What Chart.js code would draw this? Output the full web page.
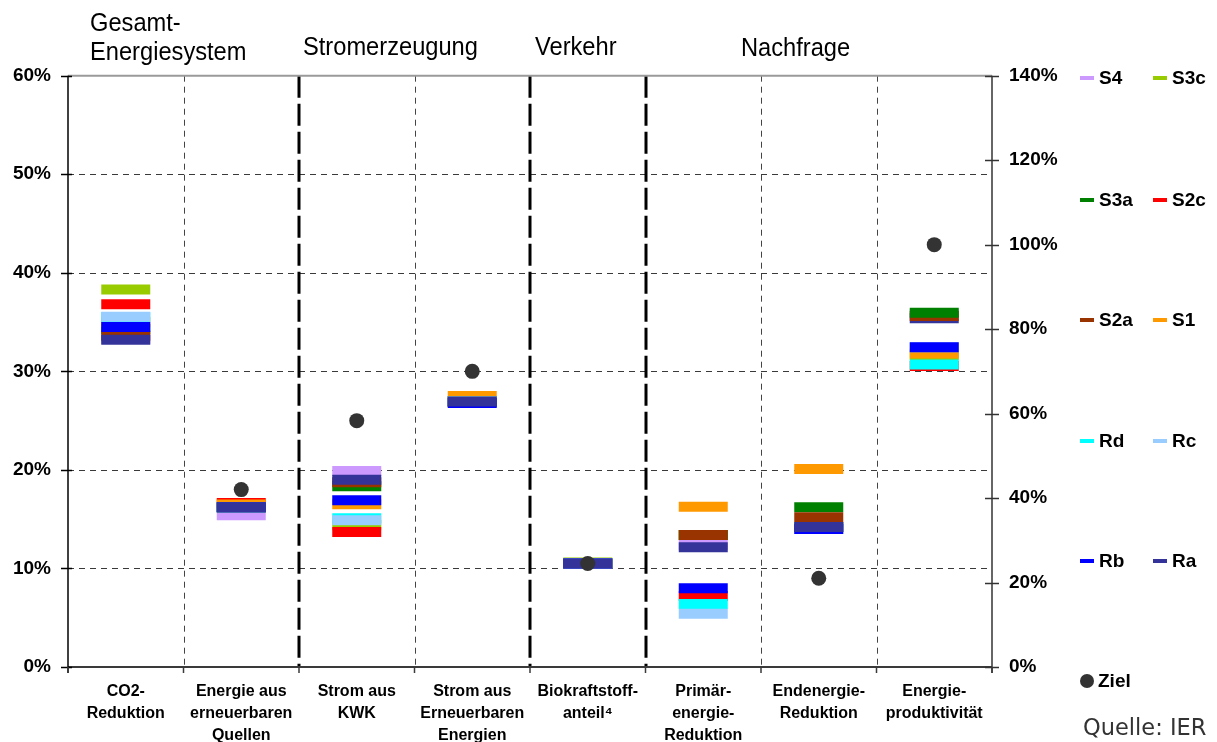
<!DOCTYPE html>
<html>
<head>
<meta charset="utf-8">
<script src="https://cdn.jsdelivr.net/npm/chart.js@4.4.1/dist/chart.umd.min.js"></script>
<style>
html,body{margin:0;padding:0;background:#fff;}
#wrap{position:relative;width:1217px;height:742px;overflow:hidden;background:#fff;}
#c{position:absolute;left:0;top:0;}
.hdr{position:absolute;font-family:'Liberation Sans',Arial,sans-serif;font-size:26px;line-height:29px;color:#000;white-space:nowrap;transform:scaleX(0.91);transform-origin:0 0;}
.leg{position:absolute;font-family:'Liberation Sans',Arial,sans-serif;font-weight:bold;font-size:19px;line-height:24px;color:#000;white-space:nowrap;display:flex;align-items:center;}
.sw{display:inline-block;width:14px;height:4px;margin-right:5px;}
.dot{display:inline-block;width:14px;height:14px;border-radius:50%;background:#333;margin-right:4px;}
.src{position:absolute;font-family:'DejaVu Sans',Verdana,sans-serif;font-size:22.5px;color:#333;white-space:nowrap;}
</style>
</head>
<body>
<div id="wrap">
  <canvas id="c" width="1217" height="742"></canvas>
  <div class="hdr" style="left:90px;top:8px;">Gesamt-<br>Energiesystem</div>
  <div class="hdr" style="left:303px;top:32px;">Stromerzeugung</div>
  <div class="hdr" style="left:535px;top:32px;">Verkehr</div>
  <div class="hdr" style="left:741px;top:33px;">Nachfrage</div>
  <div class="src" style="left:1083px;top:714px;">Quelle: IER</div>
</div>
<script>
// ---------- DATA ----------
const categories = [
  ['CO2-', 'Reduktion'],
  ['Energie aus', 'erneuerbaren', 'Quellen'],
  ['Strom aus', 'KWK'],
  ['Strom aus', 'Erneuerbaren', 'Energien'],
  ['Biokraftstoff-', 'anteil\u2074'],
  ['Primär-', 'energie-', 'Reduktion'],
  ['Endenergie-', 'Reduktion'],
  ['Energie-', 'produktivität']
];
const scenarioNames  = ['S4', 'S3c', 'S3a', 'S2c', 'S2a', 'S1', 'Rd', 'Rc', 'Rb', 'Ra'];
const scenarioColors = ['#CC99FF', '#99CC00', '#008000', '#FF0000', '#993300', '#FF9900', '#00FFFF', '#99CCFF', '#0000FF', '#333399'];

// values in % (left axis) for the first seven categories
const S4  = [33.3, 15.4, 19.9, 26.95, 10.5, 12.37, 14.2];
const S3c = [38.3, 16.2, 14.4, 26.95, 10.6, 13.4, 14.2];
const S3a = [34.3, 16.2, 18.35, 26.95, 10.5, 13.4, 16.2];
const S2c = [36.8, 16.65, 13.7, 26.95, 10.5, 7.2, 14.2];
const S2a = [33.6, 16.2, 18.75, 26.95, 10.5, 13.4, 15.2];
const S1  = [35.0, 16.49, 16.52, 27.5, 10.5, 16.25, 20.1];
const Rd  = [35.5, 16.2, 15.1, 26.95, 10.5, 6.4, 14.2];
const Rc  = [35.55, 16.2, 14.9, 26.95, 10.5, 5.4, 14.0];
const Rb  = [34.5, 16.2, 16.93, 26.8, 10.5, 8.0, 14.0];
const Ra  = [33.2, 16.2, 19.0, 26.95, 10.5, 12.15, 14.2];
const zielLeft = [null, 18.0, 25.0, 30.0, 10.5, null, 9.0];

// Energieproduktivität (right axis, %), in scenario order S4..Ra
const productivity = [83.5, 73.8, 83.9, 71.25, 83.1, 74.2, 71.6, 75.7, 75.7, 82.6];
const productivityZiel = 100;
// drawing layers for Energieproduktivität (bottom to top)
const productivityLayers = ['Ra', 'S4', 'S3c', 'S2c', 'S2a', 'S3a', 'S1', 'Rd', 'Rc', 'Rb'];

const leftTicks = [0, 10, 20, 30, 40, 50, 60];
const rightTicks = [0, 20, 40, 60, 80, 100, 120, 140];
// ---------------------------

const seriesValues = [S4, S3c, S3a, S2c, S2a, S1, Rd, Rc, Rb, Ra];
const N = categories.length;
const sans = "'Liberation Sans',Arial,sans-serif";

const marker = (color) => ({
  showLine: false,
  pointStyle: 'line',
  pointRadius: 24.5,
  pointHoverRadius: 24.5,
  pointBorderWidth: 10,
  pointHoverBorderWidth: 10,
  pointBorderColor: color,
  pointBackgroundColor: color,
  borderColor: color,
  backgroundColor: color
});

const datasets = [];
seriesValues.forEach((vals, i) => {
  datasets.push(Object.assign({
    label: scenarioNames[i],
    data: vals.concat([null]),
    yAxisID: 'y',
    order: 100 - i
  }, marker(scenarioColors[i])));
});
productivityLayers.forEach((name, layer) => {
  const i = scenarioNames.indexOf(name);
  const data = new Array(N).fill(null);
  data[N - 1] = productivity[i];
  datasets.push(Object.assign({
    label: name + ' (Produktivität)',
    data: data,
    yAxisID: 'y2',
    order: 50 - layer
  }, marker(scenarioColors[i])));
});
const zielStyle = {
  showLine: false, pointStyle: 'circle', pointRadius: 7.5, pointHoverRadius: 7.5,
  pointBorderWidth: 0, pointBackgroundColor: '#333333', pointBorderColor: '#333333',
  borderColor: '#333333', backgroundColor: '#333333', order: 0
};
datasets.push(Object.assign({label: 'Ziel', data: zielLeft.concat([null]), yAxisID: 'y'}, zielStyle));
const zp = new Array(N).fill(null); zp[N - 1] = productivityZiel;
datasets.push(Object.assign({label: 'Ziel (Produktivität)', data: zp, yAxisID: 'y2'}, zielStyle));

function seg(ctx, x1, y1, x2, y2) { ctx.beginPath(); ctx.moveTo(x1, y1); ctx.lineTo(x2, y2); ctx.stroke(); }

const gridPlugin = {
  id: 'customGrid',
  beforeDatasetsDraw(chart) {
    const {ctx, chartArea: a, scales} = chart;
    const x = scales.x, y = scales.y, y2 = scales.y2;
    ctx.save();
    ctx.lineWidth = 1; ctx.strokeStyle = '#3a3a3a'; ctx.setLineDash([6, 5]);
    leftTicks.forEach(v => {
      if (v > 0 && v < 60) {
        const py = Math.round(y.getPixelForValue(v)) + 0.5;
        seg(ctx, a.left, py, a.right, py);
      }
    });
    const bounds = [];
    for (let k = 0; k <= N; k++) {
      if (k === 0) bounds.push(a.left);
      else if (k === N) bounds.push(a.right);
      else bounds.push((x.getPixelForValue(k - 1) + x.getPixelForValue(k)) / 2);
    }
    ctx.strokeStyle = '#444'; ctx.lineWidth = 1; ctx.setLineDash([6, 5]);
    [1, 3, 6, 7].forEach(k => { const px = Math.round(bounds[k]) + 0.5; seg(ctx, px, a.top, px, a.bottom); });
    ctx.strokeStyle = '#000'; ctx.lineWidth = 3; ctx.setLineDash([22, 6]);
    [2, 4, 5].forEach(k => { const px = Math.round(bounds[k]); seg(ctx, px, a.top, px, a.bottom); });
    ctx.setLineDash([]);
    ctx.strokeStyle = '#9a9a9a'; ctx.lineWidth = 2; seg(ctx, a.left, a.top, a.right, a.top);
    ctx.strokeStyle = '#3a3a3a'; ctx.lineWidth = 2; seg(ctx, a.left, a.bottom, a.right, a.bottom);
    ctx.strokeStyle = '#000'; ctx.lineWidth = 1.5; seg(ctx, a.left, a.top, a.left, a.bottom + 6);
    ctx.strokeStyle = '#333'; ctx.lineWidth = 1.5; seg(ctx, a.right, a.top, a.right, a.bottom + 6);
    ctx.lineWidth = 1.5;
    ctx.strokeStyle = '#000';
    leftTicks.forEach(v => { const py = Math.round(y.getPixelForValue(v)) + 0.5; seg(ctx, a.left - 7, py, a.left + 4, py); });
    ctx.strokeStyle = '#333';
    rightTicks.forEach(v => { const py = Math.round(y2.getPixelForValue(v)) + 0.5; seg(ctx, a.right - 7, py, a.right + 7, py); });
    ctx.strokeStyle = '#3a3a3a';
    bounds.forEach(b => { seg(ctx, b, a.bottom, b, a.bottom + 6); });
    ctx.restore();
  }
};

new Chart(document.getElementById('c'), {
  type: 'line',
  data: {labels: categories, datasets: datasets},
  options: {
    responsive: false,
    animation: false,
    events: [],
    layout: {padding: {top: 75.7, left: 0, right: 0, bottom: 0}},
    plugins: {legend: {display: false}, tooltip: {enabled: false}, title: {display: false}},
    scales: {
      x: {
        type: 'category', offset: true,
        grid: {display: false, drawTicks: false}, border: {display: false},
        ticks: {color: '#000', autoSkip: false, maxRotation: 0, minRotation: 0, padding: 14,
                font: {family: sans, weight: 'bold', size: 16, lineHeight: 1.375}},
        afterFit(s) { s.height = 75; }
      },
      y: {
        position: 'left', min: 0, max: 60,
        grid: {display: false, drawTicks: false}, border: {display: false},
        afterBuildTicks(s) { s.ticks = leftTicks.map(v => ({value: v})); },
        ticks: {color: '#000', padding: 17, callback: v => v + '%',
                font: {family: sans, weight: 'bold', size: 19}},
        afterFit(s) { s.width = 68; }
      },
      y2: {
        position: 'right', min: 0, max: 140,
        grid: {display: false, drawTicks: false}, border: {display: false},
        afterBuildTicks(s) { s.ticks = rightTicks.map(v => ({value: v})); },
        ticks: {color: '#000', padding: 17, callback: v => v + '%',
                font: {family: sans, weight: 'bold', size: 19}},
        afterFit(s) { s.width = 225; }
      }
    }
  },
  plugins: [gridPlugin]
});

const wrap = document.getElementById('wrap');
const legendRowsY = [78, 200, 320, 441, 561];
scenarioNames.forEach((name, i) => {
  const r = Math.floor(i / 2), c = i % 2;
  const d = document.createElement('div');
  d.className = 'leg';
  d.style.left = (c === 0 ? 1080 : 1153) + 'px';
  d.style.top = (legendRowsY[r] - 12) + 'px';
  const sw = document.createElement('span');
  sw.className = 'sw'; sw.style.background = scenarioColors[i];
  d.appendChild(sw);
  d.appendChild(document.createTextNode(name));
  wrap.appendChild(d);
});
const z = document.createElement('div');
z.className = 'leg'; z.style.left = '1080px'; z.style.top = (681 - 12) + 'px';
const dot = document.createElement('span'); dot.className = 'dot';
z.appendChild(dot); z.appendChild(document.createTextNode('Ziel'));
wrap.appendChild(z);
</script>
</body>
</html>
